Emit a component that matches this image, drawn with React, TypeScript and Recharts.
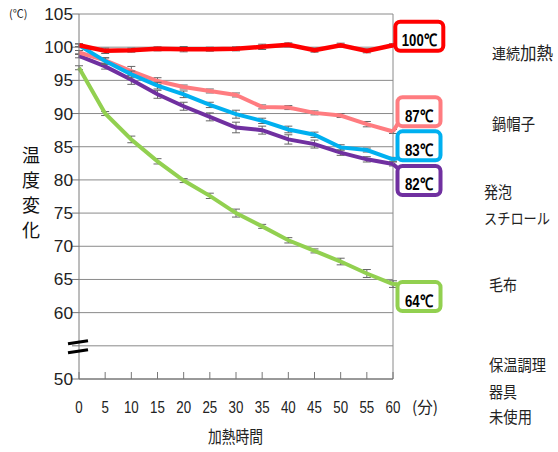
import React from 'react';
import { LineChart, Line, XAxis, YAxis, CartesianGrid, ReferenceLine, ErrorBar } from 'recharts';

const minutes = [0, 5, 10, 15, 20, 25, 30, 35, 40, 45, 50, 55, 60];
const xTicks = [0, 5, 10, 15, 20, 25, 30, 35, 40, 45, 50, 55, 60];
const yTicks = [50, 55, 60, 65, 70, 75, 80, 85, 90, 95, 100, 105];

const continuous = [100.3, 99.45, 99.55, 99.75, 99.7, 99.7, 99.75, 100.05, 100.35, 99.55, 100.3, 99.45, 100.3];
const continuousErr = [0.2, 0.4, 0.3, 0.3, 0.4, 0.3, 0.3, 0.4, 0.3, 0.3, 0.3, 0.3, 0.2];
const nabeboshi = [99.2, 98.0, 96.4, 94.9, 94.0, 93.4, 92.8, 91.0, 90.9, 90.1, 89.7, 88.4, 87.3];
const nabeboshiErr = [0.3, 0.4, 0.7, 0.5, 0.3, 0.3, 0.3, 0.3, 0.3, 0.3, 0.3, 0.4, 0.3];
const styrofoam = [100.3, 97.9, 95.9, 94.2, 92.9, 91.3, 89.9, 88.9, 87.6, 86.8, 84.9, 84.5, 83.1];
const styrofoamErr = [0.2, 0.5, 0.5, 0.5, 0.5, 0.4, 0.6, 0.4, 0.5, 0.4, 0.4, 0.3, 0.3];
const blanket = [98.7, 97.1, 95.1, 92.9, 91.1, 89.5, 87.9, 87.5, 86.1, 85.4, 84.1, 83.1, 82.4];
const blanketErr = [0.3, 0.4, 0.7, 0.6, 0.6, 0.6, 0.8, 0.6, 0.7, 0.6, 0.4, 0.4, 0.3];
const unused = [96.9, 90.0, 86.1, 82.8, 79.9, 77.6, 75.0, 73.0, 70.9, 69.3, 67.7, 65.9, 64.3];
const unusedErr = [0.3, 0.3, 0.5, 0.4, 0.3, 0.4, 0.6, 0.3, 0.4, 0.3, 0.5, 0.6, 0.5];

const endLabels = ['100℃', '87℃', '83℃', '82℃', '64℃'];

const data = minutes.map((t, i) => ({
  t,
  red: continuous[i], redErr: continuousErr[i],
  pink: nabeboshi[i], pinkErr: nabeboshiErr[i],
  blue: styrofoam[i], blueErr: styrofoamErr[i],
  purple: blanket[i], purpleErr: blanketErr[i],
  green: unused[i], greenErr: unusedErr[i],
}));

const LAST = minutes.length - 1;
const CJK = '"Noto Sans CJK JP", sans-serif';
const LAT = '"Liberation Sans", Arial, sans-serif';

type BoxCfg = { color: string; label: string; dx: number; w: number; dy: number; tl: number };

const makeEndDot = (cfg: BoxCfg) => (p: any) => {
  const { cx, cy, index } = p;
  if (index !== LAST || cx == null || cy == null) return <g key={`d-${index}`} />;
  const h = 29;
  const bx = cx + cfg.dx;
  const mid = cy + cfg.dy;
  const top = mid - h / 2;
  const bottom = mid + h / 2;
  const jy = Math.min(Math.max(cy, top + 2), bottom - 2);
  return (
    <g key={`d-${index}`}>
      <line x1={cx} y1={cy} x2={bx} y2={jy} stroke={cfg.color} strokeWidth={4} />
      <rect x={bx} y={top} width={cfg.w} height={h} rx={5} ry={5} fill="#fff" stroke={cfg.color} strokeWidth={4} />
      <text x={bx + cfg.w / 2} y={mid + 10} textAnchor="middle" fontFamily={LAT} fontWeight="bold" fontSize={17}
        fill="#000" textLength={cfg.tl} lengthAdjust="spacingAndGlyphs">{cfg.label}</text>
    </g>
  );
};

const XTick = (props: any) => {
  const { x, y, payload } = props;
  const s = String(payload.value);
  return (
    <g>
      <line x1={x} y1={y - 7} x2={x} y2={y} stroke="#777" strokeWidth={1} />
      <text x={x} y={y + 34} textAnchor="middle" fontFamily={LAT} fontSize={16} fill="#222"
        textLength={s.length * 7.4} lengthAdjust="spacingAndGlyphs">{s}</text>
    </g>
  );
};

const YTick = (props: any) => {
  const { x, y, payload } = props;
  const v = payload.value;
  if (v === 55) {
    return (
      <g>
        <line x1={x - 7} y1={y} x2={x} y2={y} stroke="#777" strokeWidth={1} />
        <line x1={x - 11} y1={y - 2} x2={x + 9} y2={y - 5} stroke="#000" strokeWidth={3} />
        <line x1={x - 11} y1={y + 7} x2={x + 9} y2={y + 4} stroke="#000" strokeWidth={3} />
      </g>
    );
  }
  const s = String(v);
  return (
    <g>
      <line x1={x - 7} y1={y} x2={x} y2={y} stroke="#777" strokeWidth={1} />
      <text x={x - 6} y={y + 6} textAnchor="end" fontFamily={LAT} fontSize={17} fill="#222"
        textLength={s.length * 9.6} lengthAdjust="spacingAndGlyphs">{s}</text>
    </g>
  );
};

const errProps = { width: 4, strokeWidth: 1, stroke: '#666' };

export default function App() {
  return (
    <div style={{ position: 'absolute', left: 0, top: 0, width: 558, height: 452, background: '#fff' }}>
      <LineChart width={558} height={452} data={data} margin={{ top: 14, right: 165, bottom: 0, left: 0 }}>
        <CartesianGrid vertical={false} stroke="#8a8a8a" strokeWidth={1} />
        <XAxis dataKey="t" type="number" domain={[0, 60]} ticks={xTicks} height={73} tickSize={0} tickMargin={0}
          tickLine={false} tick={<XTick />} axisLine={{ stroke: '#6e6e6e', strokeWidth: 1 }} interval={0} />
        <YAxis type="number" domain={[50, 105]} ticks={yTicks} width={79} tickSize={0} tickMargin={0}
          tickLine={false} tick={<YTick />} axisLine={{ stroke: '#7a7a7a', strokeWidth: 1 }} interval={0} />
        <ReferenceLine x={60} stroke="#8a8a8a" strokeWidth={1} />
        <Line dataKey="green" stroke="#92D050" strokeWidth={4} isAnimationActive={false} activeDot={false}
          dot={makeEndDot({ color: '#92D050', label: endLabels[4], dx: 4.5, w: 43, dy: 12.5, tl: 28 })}>
          <ErrorBar dataKey="greenErr" {...errProps} />
        </Line>
        <Line dataKey="purple" stroke="#7030A0" strokeWidth={4} isAnimationActive={false} activeDot={false}
          dot={makeEndDot({ color: '#7030A0', label: endLabels[3], dx: 4.5, w: 43, dy: 16.5, tl: 28 })}>
          <ErrorBar dataKey="purpleErr" {...errProps} />
        </Line>
        <Line dataKey="pink" stroke="#FF7C80" strokeWidth={4} isAnimationActive={false} activeDot={false}
          dot={makeEndDot({ color: '#FF7C80', label: endLabels[1], dx: 4.5, w: 43, dy: -19.8, tl: 28 })}>
          <ErrorBar dataKey="pinkErr" {...errProps} />
        </Line>
        <Line dataKey="blue" stroke="#00B0F0" strokeWidth={4} isAnimationActive={false} activeDot={false}
          dot={makeEndDot({ color: '#00B0F0', label: endLabels[2], dx: 4.5, w: 43, dy: -13.5, tl: 28 })}>
          <ErrorBar dataKey="blueErr" {...errProps} />
        </Line>
        <Line dataKey="red" stroke="#FF0000" strokeWidth={4.5} isAnimationActive={false} activeDot={false}
          dot={makeEndDot({ color: '#FF0000', label: endLabels[0], dx: 2.3, w: 48, dy: -9, tl: 35 })}>
          <ErrorBar dataKey="redErr" {...errProps} />
        </Line>
      </LineChart>
      <svg width={558} height={452} style={{ position: 'absolute', left: 0, top: 0, pointerEvents: 'none' }}>
        <text x={9} y={18} fontFamily={CJK} fontSize={11} fill="#222">(℃)</text>
        {['温', '度', '変', '化'].map((c, i) => (
          <text key={c} x={31} y={162 + i * 25} textAnchor="middle" fontFamily={CJK} fontSize={18} fill="#111">{c}</text>
        ))}
        <text x={412} y={413} fontFamily={CJK} fontSize={16} fill="#222" textLength={26} lengthAdjust="spacingAndGlyphs">(分)</text>
        <text x={208} y={443} fontFamily={CJK} fontSize={17} fill="#222" textLength={55} lengthAdjust="spacingAndGlyphs">加熱時間</text>
        <text x={492} y={59} fontFamily={CJK} fontSize={15} fill="#222" textLength={28} lengthAdjust="spacingAndGlyphs">連続</text>
        <text x={520} y={60} fontFamily={CJK} fontSize={18} fill="#222" textLength={33} lengthAdjust="spacingAndGlyphs">加熱</text>
        <text x={492} y={130} fontFamily={CJK} fontSize={16} fill="#222" textLength={43} lengthAdjust="spacingAndGlyphs">鍋帽子</text>
        <text x={484} y={198} fontFamily={CJK} fontSize={16} fill="#222" textLength={28} lengthAdjust="spacingAndGlyphs">発泡</text>
        <text x={484} y={224} fontFamily={CJK} fontSize={15} fill="#222" textLength={66} lengthAdjust="spacingAndGlyphs">スチロール</text>
        <text x={489} y={291} fontFamily={CJK} fontSize={16} fill="#222" textLength={28} lengthAdjust="spacingAndGlyphs">毛布</text>
        <text x={489} y={371} fontFamily={CJK} fontSize={16} fill="#222" textLength={57} lengthAdjust="spacingAndGlyphs">保温調理</text>
        <text x={489} y={398} fontFamily={CJK} fontSize={16} fill="#222" textLength={28} lengthAdjust="spacingAndGlyphs">器具</text>
        <text x={489} y={423} fontFamily={CJK} fontSize={16} fill="#222" textLength={43} lengthAdjust="spacingAndGlyphs">未使用</text>
      </svg>
    </div>
  );
}
